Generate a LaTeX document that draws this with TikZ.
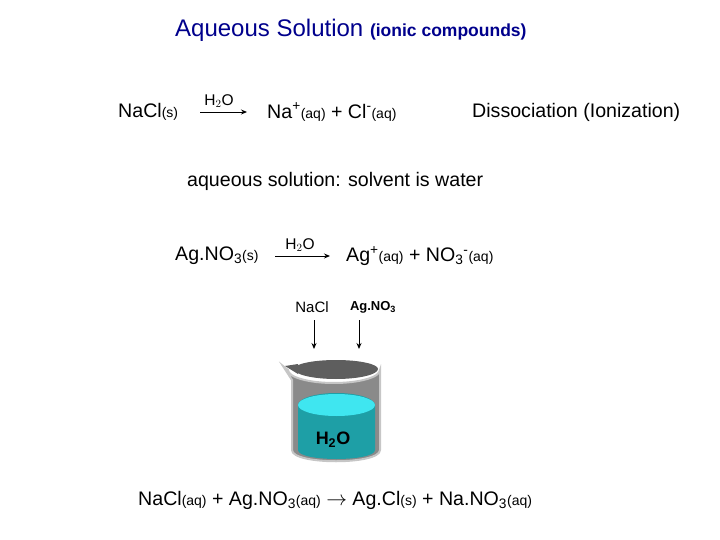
\documentclass[tikz,border=0pt]{standalone}
\usepackage{fontspec}
\setmainfont{Liberation Sans}
\usetikzlibrary{arrows.meta}
\newcommand{\sm}[1]{{\fontsize{14}{14}\selectfont #1}}
\definecolor{water}{HTML}{1E9FA6}
\definecolor{watertop}{HTML}{3FE6F0}
\definecolor{bkout}{HTML}{8A8A8A}
\definecolor{bkin}{HTML}{5E5E5E}
\begin{document}
\begin{tikzpicture}[x=1pt,y=-1pt,
  txt/.style={inner sep=0pt,font=\fontsize{19.6}{19.6}\selectfont},
  rx/.style={-{Stealth[length=6pt,width=5pt]},line width=0.9pt}]
\useasboundingbox (0,0) rectangle (720,540);
\node[txt,anchor=west,text=blue!55!black] (title) at (175,30) {\fontsize{24}{24}\selectfont Aqueous Solution \fontsize{17.5}{17.5}\selectfont\bfseries (ionic compounds)};
% first equation
\node[txt,anchor=west] (nacl) at (118,112) {NaCl\sm{(s)}};
\coordinate (a1s) at (200,112); \coordinate (a1e) at (247,112);
\draw[rx] (a1s) -- (a1e);
\node[txt,anchor=center,font=\fontsize{15.5}{15.5}\selectfont] (w1) at (219,101) {H$_2$O};
\node[txt,anchor=west] (ions1) at (267,112) {Na\textsuperscript{+}\sm{(aq)} + Cl\textsuperscript{-}\sm{(aq)}};
\node[txt,anchor=west] (diss) at (472,112) {Dissociation (Ionization)};
\node[txt,anchor=west] (aq) at (187,181) {aqueous solution: solvent is water};
% second equation
\node[txt,anchor=west] (agno) at (175,256) {Ag.NO\textsubscript{3}\sm{(s)}};
\coordinate (a2s) at (275,256); \coordinate (a2e) at (330,256);
\draw[rx] (a2s) -- (a2e);
\node[txt,anchor=center,font=\fontsize{15.5}{15.5}\selectfont] (w2) at (300,245) {H$_2$O};
\node[txt,anchor=west] (ions2) at (346,256) {Ag\textsuperscript{+}\sm{(aq)} + NO\textsubscript{3}\textsuperscript{-}\sm{(aq)}};
% beaker labels
\node[txt,anchor=center,font=\fontsize{15}{15}\selectfont] (l1) at (312,307) {NaCl};
\node[txt,anchor=center,font=\fontsize{13}{13}\selectfont\bfseries] (l2) at (373,307) {Ag.NO$_\mathbf{3}$};
\coordinate (t1) at (314,349); \coordinate (t2) at (359,349);
\draw[rx] (314,320) -- (t1);
\draw[rx] (359,320) -- (t2);
% beaker
\fill[bkout,draw=gray!45,line width=2pt] (283,366) -- (292,380) -- (292,450) .. controls (292,465) and (380,465) .. (380,450) -- (380,370)
  arc[start angle=0,end angle=180,x radius=46,y radius=13] -- cycle;
\fill[bkin] (294,369) arc[start angle=180,end angle=360,x radius=42,y radius=9] arc[start angle=0,end angle=180,x radius=42,y radius=10] -- cycle;
\fill[bkin] (285,366) -- (298,374) -- (298,364) -- cycle;
\fill[water] (298,405) -- (298,450) .. controls (298,462) and (375,462) .. (375,450) -- (375,405) arc[start angle=0,end angle=-180,x radius=38.5,y radius=12];
\fill[watertop] (336.5,405) ellipse[x radius=38.5,y radius=11];
\node[txt,anchor=center,font=\fontsize{18}{18}\selectfont\bfseries] (w3) at (333,440) {H$_\mathbf{2}$O};
% final
\node[txt,anchor=west] (fin) at (138,500) {NaCl\sm{(aq)} + Ag.NO\textsubscript{3}\sm{(aq)} $\rightarrow$ Ag.Cl\sm{(s)} + Na.NO\textsubscript{3}\sm{(aq)}};
\end{tikzpicture}
\end{document}
